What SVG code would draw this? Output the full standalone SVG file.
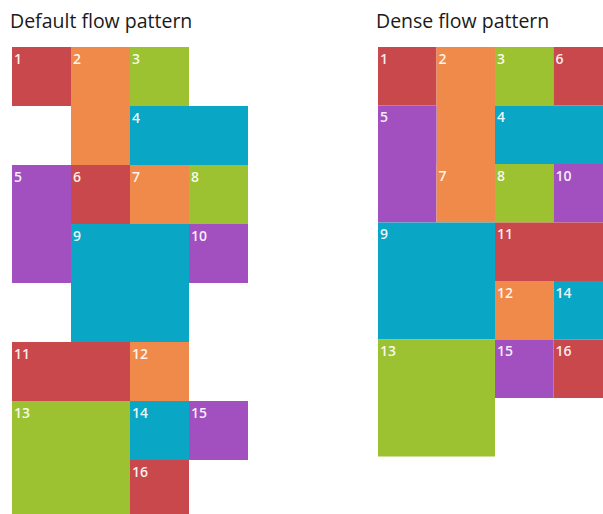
<svg xmlns="http://www.w3.org/2000/svg" width="603" height="514" viewBox="0 0 603 514">
<style>
.title{font-family:"Open Sans","Liberation Sans",sans-serif;font-size:19.5px;fill:#1a1a1a}
.lbl{font-family:"Open Sans","Liberation Sans",sans-serif;font-size:14px;font-weight:600;fill:#ffffff;fill-opacity:0.92}
.r{fill:#c8484b}.o{fill:#f08a4a}.g{fill:#9cc231}.c{fill:#0aa6c5}.p{fill:#a24fbf}
</style>
<rect width="603" height="514" fill="#ffffff"/>
<text class="title" x="10" y="28">Default flow pattern</text>
<text class="title" x="376" y="28">Dense flow pattern</text>

<g id="default">
<g id="d1"><rect class="r" x="12" y="47" width="59" height="59"/><text class="lbl" x="14" y="63.5">1</text></g>
<g id="d2"><rect class="o" x="71" y="47" width="59" height="118"/><text class="lbl" x="73" y="63.5">2</text></g>
<g id="d3"><rect class="g" x="130" y="47" width="59" height="59"/><text class="lbl" x="132" y="63.5">3</text></g>
<g id="d4"><rect class="c" x="130" y="106" width="118" height="59"/><text class="lbl" x="132" y="122.5">4</text></g>
<g id="d5"><rect class="p" x="12" y="165" width="59" height="118"/><text class="lbl" x="14" y="181.5">5</text></g>
<g id="d6"><rect class="r" x="71" y="165" width="59" height="59"/><text class="lbl" x="73" y="181.5">6</text></g>
<g id="d7"><rect class="o" x="130" y="165" width="59" height="59"/><text class="lbl" x="132" y="181.5">7</text></g>
<g id="d8"><rect class="g" x="189" y="165" width="59" height="59"/><text class="lbl" x="191" y="181.5">8</text></g>
<g id="d9"><rect class="c" x="71" y="224" width="118" height="118"/><text class="lbl" x="73" y="240.5">9</text></g>
<g id="d10"><rect class="p" x="189" y="224" width="59" height="59"/><text class="lbl" x="191" y="240.5">10</text></g>
<g id="d11"><rect class="r" x="12" y="342" width="118" height="59"/><text class="lbl" x="14" y="358.5">11</text></g>
<g id="d12"><rect class="o" x="130" y="342" width="59" height="59"/><text class="lbl" x="132" y="358.5">12</text></g>
<g id="d13"><rect class="g" x="12" y="401" width="118" height="118"/><text class="lbl" x="14" y="417.5">13</text></g>
<g id="d14"><rect class="c" x="130" y="401" width="59" height="59"/><text class="lbl" x="132" y="417.5">14</text></g>
<g id="d15"><rect class="p" x="189" y="401" width="59" height="59"/><text class="lbl" x="191" y="417.5">15</text></g>
<g id="d16"><rect class="r" x="130" y="460" width="59" height="59"/><text class="lbl" x="132" y="476.5">16</text></g>
</g>

<g id="dense">
<g id="n1"><rect class="r" x="378" y="47" width="58.5" height="58.5"/><text class="lbl" x="380" y="63.5">1</text></g>
<g id="n2"><rect class="o" x="436.5" y="47" width="58.5" height="117"/><text class="lbl" x="438.5" y="63.5">2</text></g>
<g id="n3"><rect class="g" x="495" y="47" width="58.5" height="58.5"/><text class="lbl" x="497" y="63.5">3</text></g>
<g id="n6"><rect class="r" x="553.5" y="47" width="58.5" height="58.5"/><text class="lbl" x="555.5" y="63.5">6</text></g>
<g id="n5"><rect class="p" x="378" y="105.5" width="58.5" height="117"/><text class="lbl" x="380" y="122">5</text></g>
<g id="n4"><rect class="c" x="495" y="105.5" width="117" height="58.5"/><text class="lbl" x="497" y="122">4</text></g>
<g id="n7"><rect class="o" x="436.5" y="164" width="58.5" height="58.5"/><text class="lbl" x="438.5" y="180.5">7</text></g>
<g id="n8"><rect class="g" x="495" y="164" width="58.5" height="58.5"/><text class="lbl" x="497" y="180.5">8</text></g>
<g id="n10"><rect class="p" x="553.5" y="164" width="58.5" height="58.5"/><text class="lbl" x="555.5" y="180.5">10</text></g>
<g id="n9"><rect class="c" x="378" y="222.5" width="117" height="117"/><text class="lbl" x="380" y="239">9</text></g>
<g id="n11"><rect class="r" x="495" y="222.5" width="117" height="58.5"/><text class="lbl" x="497" y="239">11</text></g>
<g id="n12"><rect class="o" x="495" y="281" width="58.5" height="58.5"/><text class="lbl" x="497" y="297.5">12</text></g>
<g id="n14"><rect class="c" x="553.5" y="281" width="58.5" height="58.5"/><text class="lbl" x="555.5" y="297.5">14</text></g>
<g id="n13"><rect class="g" x="378" y="339.5" width="117" height="117"/><text class="lbl" x="380" y="356">13</text></g>
<g id="n15"><rect class="p" x="495" y="339.5" width="58.5" height="58.5"/><text class="lbl" x="497" y="356">15</text></g>
<g id="n16"><rect class="r" x="553.5" y="339.5" width="58.5" height="58.5"/><text class="lbl" x="555.5" y="356">16</text></g>
</g>
<g id="connectors"/>
</svg>
